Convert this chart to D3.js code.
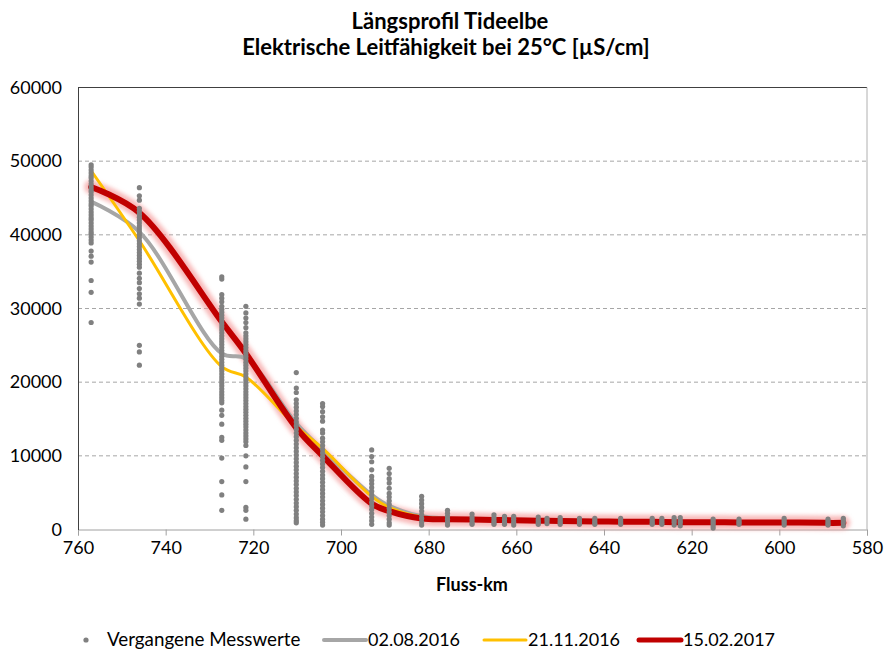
<!DOCTYPE html>
<html>
<head>
<meta charset="utf-8">
<script src="https://cdn.jsdelivr.net/npm/d3@7"></script>
<style>
  body { margin: 0; background: #fff; }
  text { font-family: Lato, "Open Sans", sans-serif; fill: #000; }
</style>
</head>
<body>
<script>
// x-axis ticks (Fluss-km), reversed
const kmTicks = [760, 740, 720, 700, 680, 660, 640, 620, 600, 580];
const valueTicks = [0, 10000, 20000, 30000, 40000, 50000, 60000];

// stations of the past measurements and their values
const measKm = [757, 746, 727.2, 721.7, 710.2, 704.2, 693, 689, 681.6, 675.7, 670.1, 665.1, 662.7, 660.6,
  655, 653, 650, 645.6, 642.1, 636.2, 629, 626.8, 624, 622.6, 615.1, 609.2, 598.9, 588.9, 585.4];
const measValues = [
  [49500, 49200, 48800, 48400, 48000, 47700, 47300, 46900, 46500, 46100, 45800, 45400, 45000, 44600, 44200,
   43900, 43500, 43100, 42700, 42300, 42000, 41600, 41200, 40800, 40400, 40100, 39700, 39300, 38900,
   37800, 37100, 36300, 33800, 32200, 28100],
  [46400, 45300, 44700, 43600, 43200, 42800, 42400, 42000, 41600, 41200, 40800, 40400, 40000, 39600,
   39200, 38800, 38400, 38000, 37600, 37200, 36800, 36400, 36000, 35600, 34800, 34100, 33500, 32700,
   32000, 31400, 30600, 25000, 24100, 22300],
  [34300, 34000, 31900, 31400, 30900, 30300, 29900, 29500, 29100, 28700, 28300, 27900, 27500, 27100,
   26700, 26300, 25900, 25500, 25100, 24700, 24300, 23900, 23500, 23100, 22700, 22300, 21900, 21500,
   21100, 20700, 20300, 19900, 19500, 19100, 18700, 18300, 17900, 17500, 17200, 16200, 15500, 14300,
   12500, 12100, 9700, 6500, 4700, 2600],
  [30300, 29400, 28700, 28100, 27400, 26700, 26300, 25900, 25500, 25100, 24700, 24300, 23900, 23500,
   23100, 22700, 22300, 21900, 21500, 21100, 20700, 20300, 19900, 19500, 19100, 18700, 18300, 17900,
   17500, 17100, 16700, 16300, 15900, 15500, 15100, 14700, 14300, 13900, 13500, 13100, 12700, 12300,
   11900, 11400, 10000, 8500, 6500, 3000, 2600, 1400],
  [21300, 19200, 18600, 17600, 17100, 16600, 16100, 15600, 15100, 14600, 14100, 13600, 13100, 12600,
   12100, 11600, 11100, 10600, 10100, 9600, 9100, 8600, 8100, 7600, 7100, 6600, 6100, 5600, 5100, 4600,
   4100, 3600, 3100, 2600, 2100, 1600, 1200, 900],
  [17100, 16700, 16000, 15300, 14700, 13500, 13100, 12400, 11900, 11400, 10900, 10400, 9900, 9400,
   8900, 8400, 7900, 7400, 6900, 6400, 5900, 5400, 4900, 4400, 3900, 3400, 2900, 2400, 1900, 1400,
   1000, 600],
  [10800, 9900, 9200, 8100, 7200, 6700, 6200, 5700, 5200, 4700, 4200, 3700, 3200, 2700, 2200, 1700,
   1200, 700],
  [8300, 7600, 6900, 6300, 5600, 4900, 4400, 3900, 3400, 2900, 2400, 1900, 1400, 900, 600],
  [4500, 4000, 3500, 3000, 2500, 2000, 1500, 1000, 600],
  [2600, 2200, 1800, 1400, 1000, 600],
  [2100, 1700, 1300, 900, 700],
  [2000, 1600, 1200, 900, 700],
  [1800, 1400, 1000, 700],
  [1800, 1400, 1000, 600],
  [1700, 1300, 1000, 700],
  [1500, 1200, 800],
  [1600, 1300, 1000, 700],
  [1500, 1200, 900, 700],
  [1500, 1200, 900, 700],
  [1500, 1200, 900, 700],
  [1500, 1200, 900, 700],
  [1500, 1200, 900, 700],
  [1600, 1300, 1000, 600],
  [1600, 1200, 900, 500],
  [1400, 1100, 800, 500, 200],
  [1400, 1100, 900, 700],
  [1500, 1200, 900, 600],
  [1400, 1100, 800, 600],
  [1500, 1200, 900, 500]
];

// longitudinal profiles
const lineKm = [757, 746, 727.2, 721.7, 710.2, 704.2, 693, 689, 681.6, 675.7, 670.1, 665.1, 660.6, 655,
  650, 642.1, 636.2, 629, 623.3, 615.1, 609.2, 598.9, 588.9, 585.4];
const aug2016 = [44500, 40400, 23900, 23200, 14400, 10800, 4700, 3200, 1800, 1500, 1400, 1350, 1300, 1250,
  1200, 1150, 1100, 1100, 1050, 1000, 1000, 1000, 950, 950];
const nov2016 = [48700, 39200, 22100, 20700, 14000, 11000, 4500, 3000, 1700, 1450, 1350, 1300, 1250, 1200,
  1150, 1100, 1100, 1050, 1000, 1000, 1000, 950, 950, 950];
const feb2017 = [46500, 43000, 28200, 23900, 13800, 10000, 3500, 2500, 1500, 1400, 1350, 1300, 1250, 1200,
  1150, 1100, 1050, 1050, 1000, 1000, 950, 950, 900, 900];

const plotLeft = 78, plotRight = 867, plotTop = 87.5, plotBottom = 529.5;

const svg = d3.select("body")
  .append("svg")
  .attr("width", 884)
  .attr("height", 649);

const x = d3.scaleLinear().domain([760, 580]).range([plotLeft, plotRight]);
const y = d3.scaleLinear().domain([0, 60000]).range([plotBottom, plotTop]);

const defs = svg.append("defs");
defs.append("filter")
  .attr("id", "glow")
  .attr("x", "-10%").attr("y", "-10%").attr("width", "120%").attr("height", "120%")
  .append("feGaussianBlur")
  .attr("stdDeviation", 2.2);

// gridlines
svg.append("g")
  .selectAll("line")
  .data(valueTicks.filter(d => d > 0 && d < 60000))
  .enter()
  .append("line")
  .attr("x1", plotLeft)
  .attr("x2", plotRight)
  .attr("y1", d => y(d))
  .attr("y2", d => y(d))
  .attr("stroke", "#a6a6a6")
  .attr("stroke-dasharray", "4,3");

// frame
svg.append("line").attr("x1", plotLeft).attr("x2", plotRight).attr("y1", plotTop).attr("y2", plotTop)
  .attr("stroke", "#404040");
svg.append("line").attr("x1", plotRight).attr("x2", plotRight).attr("y1", plotTop).attr("y2", plotBottom)
  .attr("stroke", "#b0b0b0");

// x axis
const xAxis = svg.append("g")
  .attr("transform", `translate(0,${plotBottom})`)
  .call(d3.axisBottom(x).tickValues(kmTicks).tickSize(6).tickPadding(6).tickFormat(d3.format("d")));
xAxis.select(".domain").attr("stroke", "#a0a0a0");
xAxis.selectAll(".tick line").attr("stroke", "#a0a0a0");
xAxis.selectAll("text").attr("font-size", 18).attr("fill", "#000").style("font-family", "Lato");

// y axis
const yAxis = svg.append("g")
  .attr("transform", `translate(${plotLeft},0)`)
  .call(d3.axisLeft(y).tickValues(valueTicks).tickSize(0).tickPadding(16).tickFormat(d3.format("d")));
yAxis.select(".domain").attr("stroke", "#404040");
yAxis.selectAll("text").attr("font-size", 18).attr("fill", "#000").style("font-family", "Lato");

const line = d3.line()
  .x(d => x(d[0]))
  .y(d => y(d[1]))
  .curve(d3.curveCatmullRom.alpha(0.5));

// red profile glow
svg.append("path")
  .attr("d", line(d3.zip(lineKm, feb2017)))
  .attr("fill", "none")
  .attr("stroke", "#f59a9a")
  .attr("stroke-opacity", 0.7)
  .attr("stroke-width", 14)
  .attr("stroke-linecap", "round")
  .attr("stroke-linejoin", "round")
  .attr("filter", "url(#glow)");

svg.append("path")
  .attr("d", line(d3.zip(lineKm, aug2016)))
  .attr("fill", "none")
  .attr("stroke", "#a6a6a6")
  .attr("stroke-width", 4)
  .attr("stroke-linejoin", "round");

svg.append("path")
  .attr("d", line(d3.zip(lineKm, nov2016)))
  .attr("fill", "none")
  .attr("stroke", "#ffc000")
  .attr("stroke-width", 3)
  .attr("stroke-linejoin", "round");

svg.append("path")
  .attr("d", line(d3.zip(lineKm, feb2017)))
  .attr("fill", "none")
  .attr("stroke", "#c00000")
  .attr("stroke-width", 6)
  .attr("stroke-linecap", "round")
  .attr("stroke-linejoin", "round");

// past measurements
const points = [];
measKm.forEach((km, i) => measValues[i].forEach(v => points.push([km, v])));

svg.append("g")
  .selectAll("circle")
  .data(points)
  .enter()
  .append("circle")
  .attr("cx", d => x(d[0]))
  .attr("cy", d => y(d[1]))
  .attr("r", 2.6)
  .attr("fill", "#808080");

// titles
svg.append("text")
  .attr("x", 450)
  .attr("y", 29)
  .attr("text-anchor", "middle")
  .attr("font-size", 22)
  .attr("font-weight", "bold")
  .text("Längsprofil Tideelbe");

svg.append("text")
  .attr("x", 446)
  .attr("y", 55)
  .attr("text-anchor", "middle")
  .attr("font-size", 22)
  .attr("font-weight", "bold")
  .text("Elektrische Leitfähigkeit bei 25°C [µS/cm]");

svg.append("text")
  .attr("x", 472)
  .attr("y", 591)
  .attr("text-anchor", "middle")
  .attr("font-size", 18)
  .attr("font-weight", "bold")
  .text("Fluss-km");

// legend
const legend = svg.append("g");
legend.append("circle").attr("cx", 86).attr("cy", 640).attr("r", 2.6).attr("fill", "#808080");
legend.append("text").attr("x", 107).attr("y", 646).attr("font-size", 18.8).text("Vergangene Messwerte");

const legendItems = [
  { x1: 324, label: "02.08.2016", color: "#a6a6a6", w: 4 },
  { x1: 484, label: "21.11.2016", color: "#ffc000", w: 3 },
  { x1: 639, label: "15.02.2017", color: "#c00000", w: 5 }
];
legendItems.forEach(d => {
  legend.append("line")
    .attr("x1", d.x1).attr("x2", d.x1 + 42)
    .attr("y1", 640).attr("y2", 640)
    .attr("stroke", d.color)
    .attr("stroke-width", d.w)
    .attr("stroke-linecap", "round");
  legend.append("text").attr("x", d.x1 + 44).attr("y", 646).attr("font-size", 18).text(d.label);
});
</script>
</body>
</html>
